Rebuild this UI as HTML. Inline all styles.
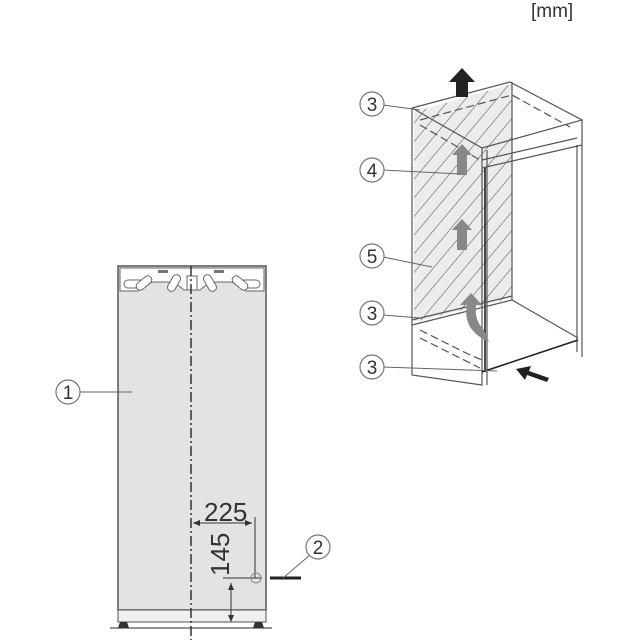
<!DOCTYPE html>
<html><head><meta charset="utf-8"><style>
html,body{margin:0;padding:0;background:#fff}
svg{display:block}
text{font-family:"Liberation Sans",sans-serif;fill:#333}
</style></head><body>
<svg width="640" height="640" viewBox="0 0 640 640" xmlns="http://www.w3.org/2000/svg">
<defs>
<pattern id="h" patternUnits="userSpaceOnUse" width="12" height="12" patternTransform="rotate(-50)">
<rect width="12" height="12" fill="#ececec"/><line x1="0" y1="0" x2="12" y2="0" stroke="#555" stroke-width="1.1"/>
</pattern>
</defs>
<text x="531" y="17" font-size="19">[mm]</text>

<!-- Left fridge -->
<rect x="118" y="266" width="148" height="344" fill="#e3e3e3" stroke="#555" stroke-width="1.5"/>
<path d="M120 268 H264 V291 H246 L232 282 H210 L200 290 H184 L174 282 H152 L138 291 H120 Z" fill="#fff" stroke="#666" stroke-width="1"/>
<g fill="#fff" stroke="#666" stroke-width="1">
<rect x="124" y="280" width="20" height="8" rx="4"/>
<rect x="240" y="280" width="20" height="8" rx="4"/>
<rect x="140" y="274" width="8" height="18" rx="4" transform="rotate(50 144 283)"/>
<rect x="170" y="274" width="8" height="18" rx="4" transform="rotate(30 174 283)"/>
<rect x="206" y="274" width="8" height="18" rx="4" transform="rotate(-30 210 283)"/>
<rect x="236" y="274" width="8" height="18" rx="4" transform="rotate(-50 240 283)"/>
<rect x="187" y="276" width="10" height="14"/>
</g>
<g fill="#777"><rect x="158" y="270" width="10" height="3"/><rect x="214" y="270" width="10" height="3"/></g>
<rect x="118" y="610" width="148" height="12" fill="#f0f0f0" stroke="#555" stroke-width="1"/>
<line x1="110" y1="628" x2="272" y2="628" stroke="#555" stroke-width="1.2"/>
<path d="M120 622 h7 l2 6 h-11 z M255 622 h7 l2 6 h-11 z" fill="#333"/>
<line x1="191" y1="266" x2="191" y2="640" stroke="#333" stroke-width="1.5" stroke-dasharray="10,3,2,3"/>

<!-- dimensions -->
<text x="204" y="521" font-size="26">225</text>
<line x1="193" y1="523" x2="252" y2="523" stroke="#333" stroke-width="1"/>
<path d="M193 523 l7 -3 v6 z M252 523 l-7 -3 v6 z" fill="#333"/>
<line x1="255" y1="517" x2="255" y2="578" stroke="#333" stroke-width="1"/>
<text transform="translate(229,576) rotate(-90)" font-size="26">145</text>
<line x1="223" y1="578" x2="262" y2="578" stroke="#333" stroke-width="1"/>
<line x1="231" y1="583" x2="231" y2="622" stroke="#333" stroke-width="1"/>
<path d="M231 583 l-3 7 h6 z M231 622 l-3 -7 h6 z" fill="#333"/>
<circle cx="256" cy="578" r="5" fill="none" stroke="#888" stroke-width="1"/>
<line x1="270" y1="578" x2="301" y2="578" stroke="#222" stroke-width="3"/>
<line x1="283" y1="578" x2="310" y2="555" stroke="#666" stroke-width="1"/>
<circle cx="318" cy="547" r="12" fill="#fff" stroke="#777" stroke-width="1.2"/>
<text x="318" y="554" font-size="19" text-anchor="middle">2</text>
<line x1="80" y1="392" x2="132" y2="392" stroke="#666" stroke-width="1"/>
<circle cx="68" cy="392" r="12" fill="#fff" stroke="#777" stroke-width="1.2"/>
<text x="68" y="399" font-size="19" text-anchor="middle">1</text>

<!-- Right cabinet -->
<polygon points="414,112 512,84 512,298 414,322" fill="url(#h)"/>
<g stroke="#555" stroke-width="1.2" fill="none">
<polyline points="412,108 412,375 482,385 482,148 412,108"/>
<line x1="487" y1="150" x2="487" y2="385"/>
<polyline points="412,108 510,82 582,120 482,148"/>
<line x1="512" y1="82" x2="512" y2="300"/>
<line x1="582" y1="120" x2="582" y2="357"/>
<line x1="577" y1="145" x2="577" y2="352"/>
<polyline points="482,168 582,145"/>
<polyline points="482,160 577,138"/>
<line x1="485" y1="168" x2="485" y2="372" stroke="#222" stroke-width="1.6"/>
<polyline points="482,372 578,340" stroke="#222" stroke-width="1.6"/>
<polyline points="412,325 512,300 578,338"/>
<polyline points="412,320 512,296"/>
<polyline points="420,120 512,95 570,127" stroke-dasharray="8,4"/>
<polyline points="420,330 470,355 482,360" stroke-dasharray="8,4"/>
<polyline points="420,338 480,368" stroke-dasharray="8,4"/>
<line x1="420" y1="125" x2="480" y2="160" stroke-dasharray="8,4"/>
</g>
<!-- arrows -->
<path d="M456 97 v-15 h-7 l13 -14 l13 14 h-7 v15 z" fill="#222"/>
<path d="M457 175 v-20 h-5 l10 -11 l10 11 h-5 v20 z" fill="#888"/>
<path d="M457 250 v-20 h-5 l10 -11 l10 11 h-5 v20 z" fill="#888"/>
<path d="M467 305 q-5 25 22 37 l-5 -12 q-10 -10 -8 -25 h6 l-11 -12 l-11 12 z" fill="#888"/>
<path d="M549 378 l-20 -7 l2 -5 l-15 3 l9 11 l2 -5 l20 7 z" fill="#222"/>
<!-- callouts -->
<g stroke="#666" stroke-width="1">
<line x1="383" y1="105" x2="420" y2="110"/>
<line x1="383" y1="170" x2="460" y2="174"/>
<line x1="383" y1="257" x2="432" y2="267"/>
<line x1="383" y1="315" x2="420" y2="318"/>
<line x1="383" y1="367" x2="497" y2="371"/>
</g>
<g fill="#fff" stroke="#777" stroke-width="1.2">
<circle cx="372" cy="104" r="12"/><circle cx="372" cy="170" r="12"/><circle cx="372" cy="256" r="12"/><circle cx="372" cy="313" r="12"/><circle cx="372" cy="367" r="12"/>
</g>
<g font-size="19" text-anchor="middle">
<text x="372" y="111">3</text><text x="372" y="177">4</text><text x="372" y="263">5</text><text x="372" y="320">3</text><text x="372" y="374">3</text>
</g>
</svg>
</body></html>
